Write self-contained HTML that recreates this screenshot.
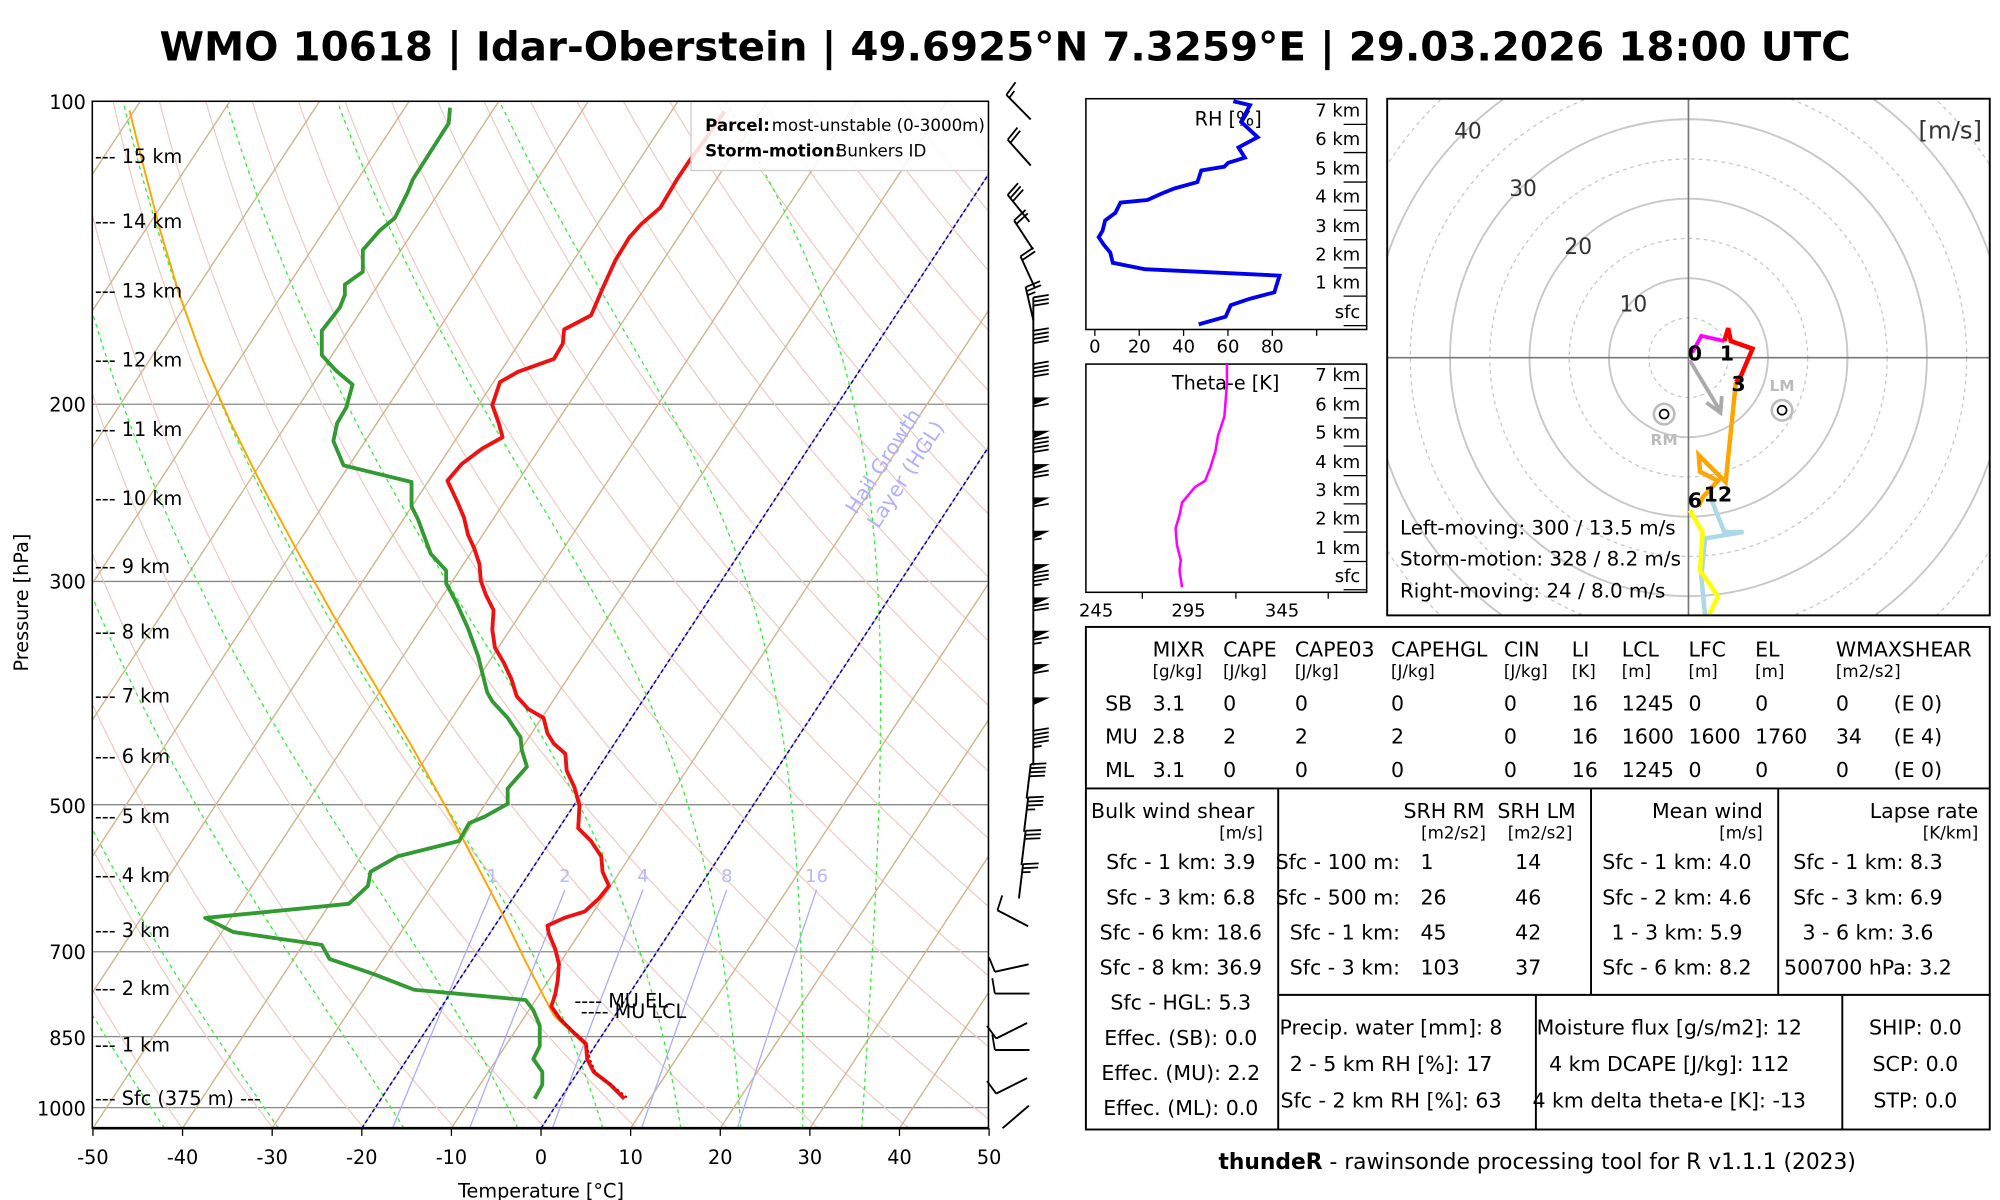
<!DOCTYPE html>
<html><head><meta charset="utf-8">
<style>
html,body{margin:0;padding:0;background:#fff;}
svg{display:block;}
text{font-family:"DejaVu Sans","Liberation Sans",sans-serif;}
</style></head>
<body>
<svg id="s" width="2000" height="1200" viewBox="0 0 1560 936" xmlns="http://www.w3.org/2000/svg">
<defs><clipPath id="pc"><rect x="72" y="79" width="699" height="801"/></clipPath>
<clipPath id="hc"><rect x="1082" y="77" width="470" height="403"/></clipPath></defs>
<rect width="1560" height="936" fill="#fff"/>
<text x="784" y="47" font-size="31.5" font-weight="bold" text-anchor="middle">WMO 10618 | Idar-Oberstein | 49.6925°N 7.3259°E | 29.03.2026 18:00 UTC</text>
<g id="skew" clip-path="url(#pc)"></g>
<g id="fg"></g>
</svg>
<script>
const NS="http://www.w3.org/2000/svg";
const sk=document.getElementById('skew'), fg=document.getElementById('fg');
function el(p,tag,a,txt){const e=document.createElementNS(NS,tag);for(const k in a)e.setAttribute(k,a[k]);if(txt!==undefined)e.textContent=txt;p.appendChild(e);return e;}
function Y(p){return 79+340.9*Math.log(p/100);}
function X(T,y){return 422+6.99*T+0.657*(880-y);}
function pl(g,pts,a){a.points=pts.map(q=>q[0].toFixed(1)+','+q[1].toFixed(1)).join(' ');a.fill='none';return el(g,'polyline',a);}
const pb=100*Math.exp(801/340.9);
[200,300,500,700,850,1000].forEach(p=>el(sk,'line',{x1:72,x2:771,y1:Y(p),y2:Y(p),stroke:'#888','stroke-width':1}));
for(let th=190;th<=520;th+=10){const pts=[];for(let p=pb;p>=95;p*=0.97){const y=Y(p);const T=th*Math.pow(p/1000,0.286)-273.15;pts.push([X(T,y),y]);}pl(sk,pts,{stroke:'#f0c8c0','stroke-width':0.9});}
for(let T=-150;T<=60;T+=10){const y1=880,y2=79;el(sk,'line',{x1:X(T,y1),y1:y1,x2:X(T,y2),y2:y2,stroke:'#d2b48c','stroke-width':1.1});}
function es(Tc){return 6.112*Math.exp(17.67*Tc/(Tc+243.5));}
[-60,-52,-42,-29.3,-15.3,-2.6,6.9,15.6,22.3,29.2,35.8].forEach(T0=>{let T=T0+273.15;const pts=[];let lp=Math.log(pb);const lend=Math.log(95);const dl=-0.01;
for(;lp>lend;lp+=dl){const p=Math.exp(lp);const y=Y(p);pts.push([X(T-273.15,y),y]);const e=es(T-273.15);const rs=0.622*e/(p-e);const g=(287*T+2.5e6*rs)/(1004+2.5e6*2.5e6*rs*0.622/(287*T*T));T+=g*dl;}
pl(sk,pts,{stroke:'#33ee33','stroke-width':1,'stroke-dasharray':'3,3'});});
[1,2,4,8,16].forEach(w=>{const pts=[];for(let p=pb;p>=600;p*=0.98){const e=w/1000*p/(0.622+w/1000);const l=Math.log(e/6.112);const Td=243.5*l/(17.67-l);const y=Y(p);pts.push([X(Td,y),y]);}
pl(sk,pts,{stroke:'#aaaaff','stroke-width':1});const q=pts[pts.length-1];el(sk,'text',{x:q[0],y:q[1]-6,'font-size':14,fill:'#b8b8ff','text-anchor':'middle'},String(w));});
[0,-20].forEach(T=>el(sk,'line',{x1:X(T,880),y1:880,x2:X(T,79),y2:79,stroke:'#0000cc','stroke-width':1.2,'stroke-dasharray':'3,2'}));
el(sk,'text',{x:0,y:0,'font-size':16,fill:'#b0b0ff',transform:'translate(668,402) rotate(-57)'},'Hail Growth');
el(sk,'text',{x:0,y:0,'font-size':16,fill:'#b0b0ff',transform:'translate(685,413) rotate(-57)'},'Layer (HGL)');
pl(sk,[[101,86],[112,130],[125,180],[140,230],[158,280],[180,330],[205,380],[232,430],[260,480],[290,530],[320,580],[348,630],[372,675],[393,715],[410,750],[423,775],[432,792],[445,804],[456,815]],{stroke:'#ffa500','stroke-width':1.5});
const Tp=[[487,857],[476,846],[463,836],[458,826],[457,814],[447,805],[437,795],[430,785],[433,776],[435,765],[436,752],[433,740],[428,728],[427,722],[440,716],[456,711],[467,701],[475,691],[470,680],[469,668],[461,656],[451,646],[452,628],[448,614],[442,601],[441,588],[432,580],[427,572],[424,560],[412,553],[403,543],[399,530],[393,517],[386,505],[384,491],[385,476],[379,464],[375,453],[374,440],[370,428],[365,417],[362,404],[357,392],[349,375],[360,362],[376,350],[392,341],[389,330],[384,316],[390,298],[404,290],[432,280],[439,268],[440,257],[461,246],[470,225],[480,203],[491,185],[500,175],[515,162],[528,140],[538,125],[547,113],[556,100],[565,87]];
pl(sk,Tp,{stroke:'#ee1111','stroke-width':3,'stroke-linejoin':'round'});
pl(sk,[[489,856],[478,847],[465,838],[460,826],[458,816],[449,806],[438,796],[431,787]],{stroke:'#cc0000','stroke-width':1.5,'stroke-dasharray':'2,2'});
const Dp=[[417,857],[423,846],[423,836],[416,826],[421,816],[421,800],[416,788],[410,780],[323,772],[292,760],[257,748],[251,737],[182,727],[160,716],[272,705],[287,691],[289,680],[310,668],[358,656],[366,642],[378,637],[396,627],[396,615],[411,598],[407,585],[406,575],[396,560],[384,547],[380,540],[373,512],[365,490],[356,470],[348,455],[348,445],[336,432],[326,405],[321,395],[321,376],[268,363],[260,344],[263,330],[270,318],[275,300],[262,289],[251,277],[251,258],[265,240],[269,230],[269,222],[283,212],[283,195],[296,180],[308,170],[318,150],[322,140],[350,96],[351,84]];
pl(sk,Dp,{stroke:'#339933','stroke-width':3,'stroke-linejoin':'round'});
el(sk,'text',{x:448,y:786,'font-size':15},'---- MU EL');
el(sk,'text',{x:453,y:794,'font-size':15},'---- MU LCL');
el(sk,'rect',{x:539,y:79,width:240,height:54,fill:'#fff','fill-opacity':0.85,stroke:'#ccc'});
el(sk,'text',{x:550,y:102,'font-size':13,'font-weight':'bold'},'Parcel:');
el(sk,'text',{x:550,y:122,'font-size':13,'font-weight':'bold'},'Storm-motion:');
el(fg,'text',{x:652,y:122,'font-size':13},'Bunkers ID');
el(fg,'text',{x:602,y:102,'font-size':13},'most-unstable (0-3000m)');
[['15 km',121],['14 km',172],['13 km',226],['12 km',280],['11 km',334],['10 km',388],['9 km',441],['8 km',492],['7 km',542],['6 km',589],['5 km',636],['4 km',682],['3 km',725],['2 km',770],['1 km',814],['Sfc (375 m) ---',856]].forEach(a=>el(sk,'text',{x:74,y:a[1]+6,'font-size':15},'--- '+a[0]));
el(fg,'rect',{x:72,y:79,width:699,height:801,fill:'none',stroke:'#000','stroke-width':1.2});
el(fg,'line',{x1:72,x2:771,y1:880,y2:880,stroke:'#000','stroke-width':2});
[[100,79],[200,315],[300,453],[500,628],[700,742],[850,809],[1000,864]].forEach(a=>el(fg,'text',{x:67,y:a[1]+6,'font-size':15,'text-anchor':'end'},String(a[0])));
for(let T=-50;T<=50;T+=10){const x=422+6.99*T;el(fg,'line',{x1:x,x2:x,y1:880,y2:886,stroke:'#000'});el(fg,'text',{x:x,y:908,'font-size':15,'text-anchor':'middle'},String(T));}
el(fg,'text',{x:422,y:934,'font-size':15,'text-anchor':'middle'},'Temperature [°C]');
el(fg,'text',{x:0,y:0,'font-size':15,'text-anchor':'middle',transform:'translate(22,470) rotate(-90)'},'Pressure [hPa]');
function barbT(tx,ty,ang,kt){const ux=Math.cos(ang),uy=Math.sin(ang);const L=27;const bx=tx-ux*L,by=ty-uy*L;el(fg,'line',{x1:bx,y1:by,x2:tx,y2:ty,stroke:'#000','stroke-width':1.5});
const px=-uy,py=ux;let pos=0;let k=kt;
while(k>=50){const a=[tx-ux*pos,ty-uy*pos],b=[tx-ux*(pos+6),ty-uy*(pos+6)];const c=[a[0]+px*13,a[1]+py*13];el(fg,'polygon',{points:`${a[0]},${a[1]} ${c[0]},${c[1]} ${b[0]},${b[1]}`,fill:'#000'});pos+=7;k-=50;}
while(k>=10){const a=[tx-ux*pos,ty-uy*pos];el(fg,'line',{x1:a[0],y1:a[1],x2:a[0]+px*12+ux*2,y2:a[1]+py*12+uy*2,stroke:'#000','stroke-width':1.4});pos+=3.2;k-=10;}
if(k>=5){pos=Math.max(pos,3.2);const a=[tx-ux*pos,ty-uy*pos];el(fg,'line',{x1:a[0],y1:a[1],x2:a[0]+px*6.5+ux*1,y2:a[1]+py*6.5+uy*1,stroke:'#000','stroke-width':1.4});}}
[[785,74,-2.35,15],[786,109,-2.3,20],[786,152,-2.25,30],[791,172,-2.15,20],[796,200,-2.0,20],[800,224,-1.8,25]].forEach(a=>barbT(a[0],a[1],a[2],a[3]));
const ms=[30,40,40,60,90,70,60,55,85,70,65,60,50,45,40,35,30,25];
ms.forEach((kt,i)=>{const ty=232+i*26;const ang=i>13?-1.45:-1.57;barbT(806-(i>13?(i-13)*2:0),ty,ang,kt);});
[[803,723,778,710,10],[803,752,776,758,10],[803,775,776,775,10],[803,797,777,810,10],[803,819,776,819,10],[803,840,777,853,10],[803,862,782,880,0]].forEach(a=>{const ang=Math.atan2(a[3]-a[1],a[2]-a[0]);barbT(a[2],a[3],ang,a[4]);});
el(fg,'rect',{x:847,y:77,width:219,height:180,fill:'none',stroke:'#000','stroke-width':1.2});
el(fg,'text',{x:958,y:98,'font-size':15,'text-anchor':'middle'},'RH [%]');
[['7 km',86],['6 km',108],['5 km',131],['4 km',153],['3 km',176],['2 km',198],['1 km',220],['sfc',243]].forEach(a=>{el(fg,'text',{x:1061,y:a[1]+5,'font-size':14,'text-anchor':'end'},a[0]);el(fg,'line',{x1:1048,x2:1066,y1:a[1]+11,y2:a[1]+11,stroke:'#000'});});
[0,20,40,60,80].forEach((v,i)=>{const x=854+v*1.73;el(fg,'line',{x1:x,x2:x,y1:257,y2:262,stroke:'#000'});el(fg,'text',{x:x,y:275,'font-size':14,'text-anchor':'middle'},String(v));});
el(fg,'line',{x1:1027,x2:1027,y1:257,y2:262,stroke:'#000'});
pl(fg,[[962,79],[975,82],[968,95],[981,107],[966,115],[971,123],[958,127],[955,130],[937,133],[934,142],[916,147],[906,151],[895,156],[874,158],[870,166],[862,172],[860,180],[857,185],[861,191],[866,197],[868,205],[893,210],[998,215],[994,228],[975,233],[960,238],[956,247],[935,253]],{stroke:'#0000ee','stroke-width':3});
el(fg,'rect',{x:847,y:284,width:219,height:178,fill:'none',stroke:'#000','stroke-width':1.2});
el(fg,'text',{x:956,y:304,'font-size':15,'text-anchor':'middle'},'Theta-e [K]');
[['7 km',292],['6 km',315],['5 km',337],['4 km',360],['3 km',382],['2 km',404],['1 km',427],['sfc',449]].forEach(a=>{el(fg,'text',{x:1061,y:a[1]+5,'font-size':14,'text-anchor':'end'},a[0]);el(fg,'line',{x1:1048,x2:1066,y1:a[1]+11,y2:a[1]+11,stroke:'#000'});});
[[245,855],[295,927],[345,1000]].forEach(a=>el(fg,'text',{x:a[1],y:481,'font-size':14,'text-anchor':'middle'},String(a[0])));
[891,964,1036].forEach(x=>el(fg,'line',{x1:x,x2:x,y1:462,y2:467,stroke:'#000'}));
pl(fg,[[957,284],[957,300],[955,325],[950,340],[948,352],[944,365],[940,375],[932,380],[922,392],[920,402],[917,412],[918,425],[921,437],[920,445],[922,458]],{stroke:'#ff00ff','stroke-width':2});
const hg=el(fg,'g',{'clip-path':'url(#hc)'});const cx=1317,cy=279,r10=62;
for(let s=5;s<=50;s+=5){el(hg,'circle',{cx:cx,cy:cy,r:s*r10/10,fill:'none',stroke:'#c8c8c8','stroke-width':s%10?1:1.5,'stroke-dasharray':s%10?'3,3':'none'});}
el(hg,'line',{x1:1082,x2:1552,y1:cy,y2:cy,stroke:'#777','stroke-width':1.3});
el(hg,'line',{x1:cx,x2:cx,y1:77,y2:480,stroke:'#777','stroke-width':1.3});
[['10',1274,243],['20',1231,198],['30',1188,153],['40',1145,108]].forEach(a=>el(hg,'text',{x:a[1],y:a[2],'font-size':17,'text-anchor':'middle',fill:'#333'},a[0]));
el(hg,'text',{x:1546,y:108,'font-size':19,'text-anchor':'end',fill:'#333'},'[m/s]');
pl(hg,[[1320,275],[1327,262],[1345,266]],{stroke:'#ff00ff','stroke-width':3});
pl(hg,[[1345,266],[1348,256],[1350,266],[1367,272],[1358,293],[1354,298]],{stroke:'#ff0000','stroke-width':3.5});
pl(hg,[[1354,298],[1346,376],[1325,355],[1326,368],[1340,375],[1328,388],[1325,395]],{stroke:'#ffa500','stroke-width':3.5});
pl(hg,[[1335,390],[1345,415],[1360,415],[1330,420],[1327,450],[1330,480]],{stroke:'#add8e6','stroke-width':3.5});
pl(hg,[[1318,398],[1328,415],[1326,445],[1340,465],[1333,480]],{stroke:'#ffff00','stroke-width':3.5});
el(hg,'line',{x1:1318,y1:281,x2:1342,y2:321,stroke:'#aaa','stroke-width':3});
pl(hg,[[1331,314],[1342,322],[1343,309]],{stroke:'#aaa','stroke-width':3});
[['0',1322,281],['1',1347,281],['3',1356,305],['6',1322,396],['12',1340,391]].forEach(a=>el(hg,'text',{x:a[1],y:a[2],'font-size':16,'font-weight':'bold','text-anchor':'middle'},a[0]));
[[1298,323,'RM',1298,347],[1390,320,'LM',1390,305]].forEach(a=>{el(hg,'circle',{cx:a[0],cy:a[1],r:8,fill:'none',stroke:'#bbb','stroke-width':2});el(hg,'circle',{cx:a[0],cy:a[1],r:3.5,fill:'none',stroke:'#000','stroke-width':1.3});el(hg,'text',{x:a[3],y:a[4],'font-size':12,'font-weight':'bold',fill:'#bbb','text-anchor':'middle'},a[2]);});
[['Left-moving: 300 / 13.5 m/s',417],['Storm-motion: 328 / 8.2 m/s',441],['Right-moving: 24 / 8.0 m/s',466]].forEach(a=>el(hg,'text',{x:1092,y:a[1],'font-size':15.5},a[0]));
el(fg,'rect',{x:1082,y:77,width:470,height:403,fill:'none',stroke:'#000','stroke-width':1.5});
const L=(x1,y1,x2,y2)=>el(fg,'line',{x1,y1,x2,y2,stroke:'#000','stroke-width':1.5});
el(fg,'rect',{x:847,y:489,width:705,height:392,fill:'none',stroke:'#000','stroke-width':1.5});
L(847,615,1552,615);L(997,615,997,881);L(1241,615,1241,776);L(1387,615,1387,776);L(997,776,1552,776);L(1198,776,1198,881);L(1437,776,1437,881);
const T=(x,y,s,an,sz)=>el(fg,'text',{x,y,'font-size':sz||16,'text-anchor':an||'start'},s);
const cols=[899,954,1010,1085,1173,1226,1265,1317,1369,1432];
['MIXR','CAPE','CAPE03','CAPEHGL','CIN','LI','LCL','LFC','EL','WMAXSHEAR'].forEach((s,i)=>T(cols[i],512,s));
['[g/kg]','[J/kg]','[J/kg]','[J/kg]','[J/kg]','[K]','[m]','[m]','[m]','[m2/s2]'].forEach((s,i)=>T(cols[i],528,s,'start',13));
[['SB',554,['3.1','0','0','0','0','16','1245','0','0','0','(E 0)']],['MU',580,['2.8','2','2','2','0','16','1600','1600','1760','34','(E 4)']],['ML',606,['3.1','0','0','0','0','16','1245','0','0','0','(E 0)']]].forEach(r=>{T(862,r[1],r[0]);r[2].forEach((v,i)=>T(i<10?cols[i]:1477,r[1],v));});
T(851,638,'Bulk wind shear');T(985,654,'[m/s]','end',13);
['Sfc - 1 km: 3.9','Sfc - 3 km: 6.8','Sfc - 6 km: 18.6','Sfc - 8 km: 36.9','Sfc - HGL: 5.3','Effec. (SB): 0.0','Effec. (MU): 2.2','Effec. (ML): 0.0'].forEach((s,i)=>T(921,678+i*27.4,s,'middle'));
T(1158,638,'SRH RM','end');T(1168,638,'SRH LM');T(1159,654,'[m2/s2]','end',13);T(1176,654,'[m2/s2]','start',13);
[['Sfc - 100 m:','1','14',995],['Sfc - 500 m:','26','46',995],['Sfc - 1 km:','45','42',1006],['Sfc - 3 km:','103','37',1006]].forEach((r,i)=>{const y=678+i*27.4;T(r[3],y,r[0]);T(1108,y,r[1]);T(1192,y,r[2],'middle');});
T(1375,638,'Mean wind','end');T(1375,654,'[m/s]','end',13);
['Sfc - 1 km: 4.0','Sfc - 2 km: 4.6','1 - 3 km: 5.9','Sfc - 6 km: 8.2'].forEach((s,i)=>T(1308,678+i*27.4,s,'middle'));
T(1543,638,'Lapse rate','end');T(1543,654,'[K/km]','end',13);
['Sfc - 1 km: 8.3','Sfc - 3 km: 6.9','3 - 6 km: 3.6','500700 hPa: 3.2'].forEach((s,i)=>T(1457,678+i*27.4,s,'middle'));
['Precip. water [mm]: 8','2 - 5 km RH [%]: 17','Sfc - 2 km RH [%]: 63'].forEach((s,i)=>T(1085,807+i*28.5,s,'middle'));
['Moisture flux [g/s/m2]: 12','4 km DCAPE [J/kg]: 112','4 km delta theta-e [K]: -13'].forEach((s,i)=>T(1302,807+i*28.5,s,'middle'));
['SHIP: 0.0','SCP: 0.0','STP: 0.0'].forEach((s,i)=>T(1494,807+i*28.5,s,'middle'));
const ft=el(fg,'text',{x:1199,y:912,'font-size':17,'text-anchor':'middle'});el(ft,'tspan',{'font-weight':'bold'},'thundeR');el(ft,'tspan',{},' - rawinsonde processing tool for R v1.1.1 (2023)');
</script>
</body></html>
